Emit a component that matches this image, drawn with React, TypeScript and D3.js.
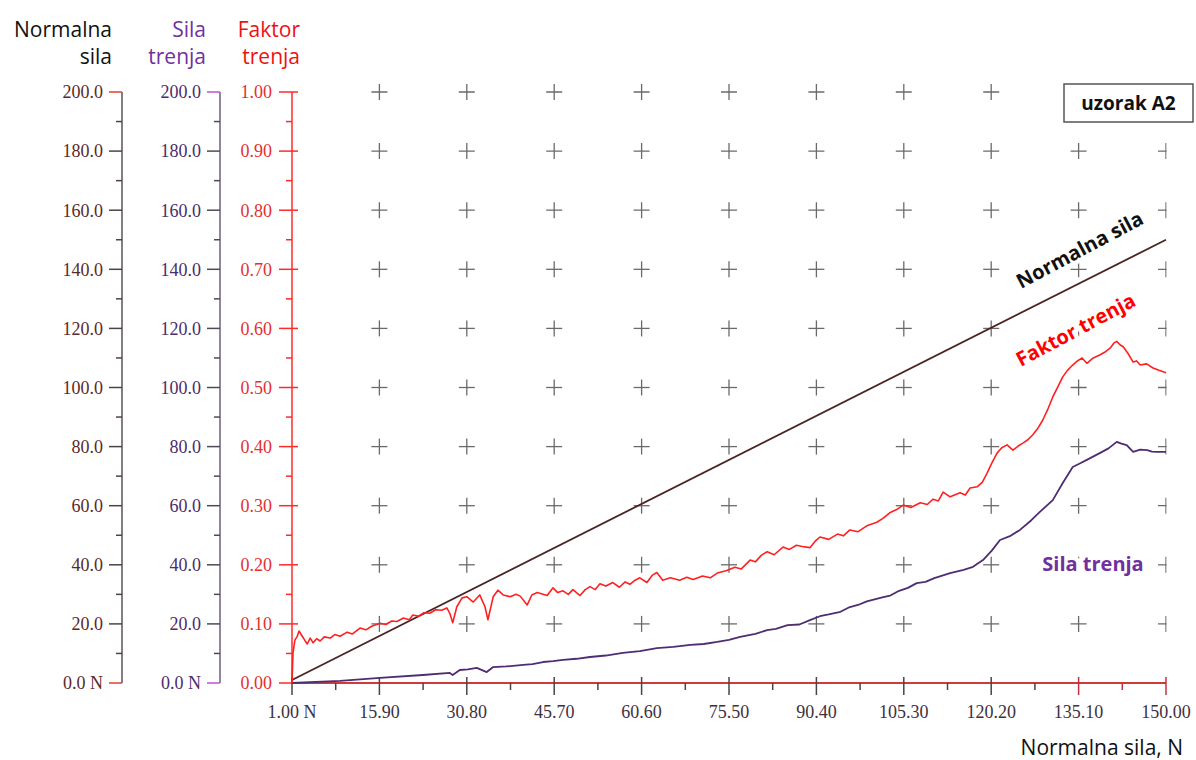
import { useEffect, useRef } from 'react'
import * as d3 from 'd3'

const W = 1196, H = 760
const P = { left: 292, right: 1166, top: 92, bottom: 683 }

// x axis (Normalna sila, N)
const xTicks = [1, 15.9, 30.8, 45.7, 60.6, 75.5, 90.4, 105.3, 120.2, 135.1, 150]
const forceTicks = [0, 20, 40, 60, 80, 100, 120, 140, 160, 180, 200]
const coefTicks = [0, 0.1, 0.2, 0.3, 0.4, 0.5, 0.6, 0.7, 0.8, 0.9, 1.0]

// Normalna sila (straight ramp)
const normalN = [1, 150]
const normalF = [1, 150]

// Faktor trenja
const coefN = [
  1, 1.17, 1.5, 1.85, 2.2, 2.7, 3.2, 3.6, 4.1, 4.6, 5.2, 5.8, 6.5, 7.5, 8.3, 9.2, 10.4, 11.3, 12.6, 13.6,
  14.6, 16, 17, 18, 18.9, 20, 21, 21.6, 22.6, 23.5, 24.5, 25.5, 26.5, 27.4, 27.9, 28.4, 29.1, 30, 30.8, 31.9,
  33, 33.9, 34.4, 35.3, 36.1, 37, 38.2, 39.2, 39.9, 41.1, 41.9, 42.8, 44.5, 45.5, 46.3, 47.2, 48.1, 48.9, 50.1, 51,
  51.8, 52.7, 53.5, 54.5, 55.7, 56.8, 57.8, 58.6, 59.5, 60.3, 61.5, 62.4, 63.2, 64.2, 65.5, 67.1, 68.3, 69.4, 71, 72.3,
  73.5, 75, 76.5, 77.6, 79.1, 80, 81, 82, 83.2, 84.7, 85.8, 87, 88, 89.3, 90.2, 91, 92.5, 94, 95, 96.1,
  97.5, 99, 100.7, 101.8, 102.9, 104, 105.2, 106.5, 108.1, 109.3, 110.3, 111.2, 112, 113.2, 114.9, 115.8, 116.6, 117.8, 118.7, 119.5,
  120.3, 121.2, 122, 122.9, 123.9, 124.8, 125.6, 126.5, 127.3, 128.1, 129, 129.8, 130.7, 131.6, 132.4, 133.2, 134.1, 134.9, 135.7, 136.5,
  137.6, 138.7, 139.6, 140.5, 141.1, 141.6, 142.2, 142.7, 143.5, 144.4, 145, 145.6, 146.7, 147.8, 148.8, 150,
]
const coefV = [
  0, 0.051, 0.073, 0.078, 0.088, 0.08, 0.072, 0.066, 0.076, 0.068, 0.075, 0.071, 0.078, 0.076, 0.082, 0.079, 0.086, 0.083, 0.093, 0.09,
  0.096, 0.101, 0.099, 0.105, 0.104, 0.11, 0.107, 0.115, 0.113, 0.119, 0.118, 0.124, 0.123, 0.127, 0.118, 0.102, 0.129, 0.144, 0.146, 0.137,
  0.149, 0.129, 0.107, 0.146, 0.157, 0.149, 0.146, 0.15, 0.147, 0.132, 0.149, 0.153, 0.148, 0.161, 0.153, 0.156, 0.15, 0.158, 0.148, 0.158,
  0.163, 0.158, 0.168, 0.164, 0.17, 0.162, 0.171, 0.167, 0.174, 0.178, 0.17, 0.182, 0.187, 0.174, 0.178, 0.174, 0.179, 0.175, 0.181, 0.178,
  0.186, 0.19, 0.196, 0.193, 0.208, 0.205, 0.216, 0.222, 0.217, 0.23, 0.226, 0.233, 0.231, 0.229, 0.24, 0.247, 0.243, 0.252, 0.249, 0.259,
  0.256, 0.266, 0.272, 0.279, 0.288, 0.293, 0.301, 0.297, 0.305, 0.302, 0.311, 0.308, 0.323, 0.315, 0.322, 0.318, 0.33, 0.332, 0.34, 0.355,
  0.372, 0.389, 0.398, 0.403, 0.394, 0.401, 0.406, 0.412, 0.42, 0.43, 0.445, 0.462, 0.484, 0.502, 0.518, 0.529, 0.538, 0.545, 0.55, 0.541,
  0.55, 0.555, 0.56, 0.567, 0.575, 0.578, 0.572, 0.569, 0.558, 0.543, 0.545, 0.538, 0.54, 0.533, 0.529, 0.525,
]

// Sila trenja
const frictN = [
  1, 9.2, 16, 23.3, 27.9, 28.4, 29.6, 31, 32.5, 34.2, 35.3, 37.5, 40.4, 42, 43.8, 45.5, 47.2, 49.5, 51.8, 54.5,
  57.4, 60.3, 63.2, 66, 68.9, 71.2, 73.5, 75.5, 77.4, 80, 82, 83.5, 85.5, 87.5, 89.3, 91, 92.5, 94.5, 96.1, 97.5,
  99, 101.8, 103, 104.5, 106, 107.5, 109, 110.5, 113.2, 115.5, 117.1, 118.8, 120.3, 121.7, 123.5, 125.1, 127, 128.5, 130.7, 132.4,
  134.1, 135.3, 136.5, 138.7, 140.2, 141.6, 142.4, 143.3, 144.4, 145.6, 146.8, 147.6, 148.4, 150,
]
const frictV = [
  0, 0.7, 1.7, 2.7, 3.4, 2.7, 4.4, 4.6, 5.1, 3.7, 5.4, 5.6, 6.1, 6.4, 7.1, 7.4, 7.8, 8.2, 8.8, 9.3,
  10.2, 10.8, 11.8, 12.2, 12.9, 13.2, 13.9, 14.6, 15.6, 16.6, 17.9, 18.3, 19.6, 19.8, 21.3, 22.6, 23.2, 24.1, 25.7, 26.4,
  27.6, 29.1, 29.6, 31.2, 32.2, 33.8, 34.2, 35.5, 37.2, 38.3, 39.3, 41.6, 44.8, 48.4, 49.8, 51.8, 55, 57.9, 61.9, 67.7,
  73.1, 74.3, 75.5, 77.8, 79.4, 81.6, 81, 80.5, 78.2, 79, 78.8, 78.3, 78.2, 78.2,
]

const serif = 'Liberation Serif, Times New Roman, serif'
const sans = 'Open Sans, Noto Sans, sans-serif'

export default function App() {
  const svgRef = useRef<SVGSVGElement>(null)

  useEffect(() => {
    const svg = d3.select(svgRef.current!)
    svg.selectAll('*').remove()

    const x = d3.scaleLinear().domain([1, 150]).range([P.left, P.right])
    const yF = d3.scaleLinear().domain([0, 200]).range([P.bottom, P.top])
    const yC = d3.scaleLinear().domain([0, 1]).range([P.bottom, P.top])

    svg.append('rect').attr('width', W).attr('height', H).attr('fill', '#fff')

    svg.append('clipPath').attr('id', 'plotClip')
      .append('rect').attr('x', P.left).attr('y', 70).attr('width', P.right - P.left + 0.5).attr('height', 640)

    // "+" grid markers
    const grid = svg.append('g').attr('clip-path', 'url(#plotClip)')
      .attr('stroke', '#6a6a6a').attr('stroke-width', 1.3)
    xTicks.slice(1).forEach(xv => {
      coefTicks.slice(1).forEach(cv => {
        const cx = x(xv), cy = yC(cv)
        grid.append('line').attr('x1', cx - 8).attr('x2', cx + 8).attr('y1', cy).attr('y2', cy)
        grid.append('line').attr('x1', cx).attr('x2', cx).attr('y1', cy - 8).attr('y2', cy + 8)
      })
    })

    // vertical axis helper
    const vAxis = (ax: number, scale: d3.ScaleLinear<number, number>, ticks: number[], fmt: (v: number, i: number) => string,
      lineColor: string, tickColor: string, labelColor: string, labelX: number, right: number, endColor: string) => {
      const g = svg.append('g')
      g.append('line').attr('x1', ax).attr('x2', ax).attr('y1', P.top).attr('y2', P.bottom)
        .attr('stroke', lineColor).attr('stroke-width', 1.5)
      ticks.forEach((v, i) => {
        const y = scale(v)
        const end = i === 0 || i === ticks.length - 1
        g.append('line').attr('x1', ax - 13).attr('x2', ax + right).attr('y1', y).attr('y2', y)
          .attr('stroke', end ? endColor : tickColor).attr('stroke-width', 1.5)
        g.append('text').attr('x', labelX).attr('y', y).attr('dy', '0.35em').attr('text-anchor', 'end')
          .attr('font-family', serif).attr('font-size', 18).attr('fill', labelColor).text(fmt(v, i))
        if (i < ticks.length - 1) {
          const m = scale((v + ticks[i + 1]) / 2)
          g.append('line').attr('x1', ax - 6).attr('x2', ax).attr('y1', m).attr('y2', m)
            .attr('stroke', tickColor).attr('stroke-width', 1.5)
        }
      })
    }

    vAxis(122, yF, forceTicks, (v, i) => i === 0 ? '0.0 N' : v.toFixed(1), '#5b5358', '#4a4448', '#5a2a2a', 103, 0, '#e04030')
    vAxis(220, yF, forceTicks, (v, i) => i === 0 ? '0.0 N' : v.toFixed(1), '#6e5f80', '#4f4858', '#4a2d6a', 201, 0, '#c050d0')
    vAxis(P.left, yC, coefTicks, v => v.toFixed(2), '#ff2a2a', '#ff2a2a', '#e53030', 272, 6, '#ff2a2a')

    // x axis
    const xg = svg.append('g')
    xg.append('line').attr('x1', P.left).attr('x2', P.right).attr('y1', P.bottom).attr('y2', P.bottom)
      .attr('stroke', '#d03a3a').attr('stroke-width', 1.8)
    xTicks.forEach((v, i) => {
      const px = x(v)
      xg.append('line').attr('x1', px).attr('x2', px).attr('y1', P.bottom - 6).attr('y2', P.bottom + 12)
        .attr('stroke', i >= 9 ? '#c03040' : '#4a4448').attr('stroke-width', 1.5)
      xg.append('text').attr('x', px).attr('y', P.bottom + 35).attr('text-anchor', 'middle')
        .attr('font-family', serif).attr('font-size', 18).attr('fill', '#3e3040')
        .text(i === 0 ? `${v.toFixed(2)} N` : v.toFixed(2))
      if (i < xTicks.length - 1) {
        const m = x((v + xTicks[i + 1]) / 2)
        xg.append('line').attr('x1', m).attr('x2', m).attr('y1', P.bottom).attr('y2', P.bottom + 7)
          .attr('stroke', i >= 9 ? '#c03040' : '#4a4448').attr('stroke-width', 1.5)
      }
    })
    svg.append('text').attr('x', 1183).attr('y', 755).attr('text-anchor', 'end')
      .attr('font-family', sans).attr('font-size', 21).attr('fill', '#111').text('Normalna sila, N')

    // series labels (with white halo hiding the grid markers beneath)
    const label = (tr: string, text: string, color: string) => {
      svg.append('text').attr('transform', tr).attr('text-anchor', 'middle')
        .attr('font-family', sans).attr('font-weight', 700).attr('font-size', 20)
        .attr('fill', color).attr('stroke', '#fff').attr('stroke-width', 9)
        .attr('stroke-linejoin', 'round').attr('paint-order', 'stroke').text(text)
    }
    label('translate(1083,256) rotate(-28)', 'Normalna sila', '#111')
    label('translate(1079,336) rotate(-28)', 'Faktor trenja', '#ff0000')
    label('translate(1093,571)', 'Sila trenja', '#7030a0')

    // series
    const normalLine = d3.line<number>().x((_, i) => x(normalN[i])).y(v => yF(v))
    svg.append('path').datum(normalF).attr('fill', 'none').attr('stroke', '#4a2424')
      .attr('stroke-width', 1.8).attr('d', normalLine)

    const frictLine = d3.line<number>().x((_, i) => x(frictN[i])).y(v => yF(v))
    svg.append('path').datum(frictV).attr('fill', 'none').attr('stroke', '#4e2d72')
      .attr('stroke-width', 1.8).attr('stroke-linejoin', 'round').attr('d', frictLine)

    const coefLine = d3.line<number>().x((_, i) => x(coefN[i])).y(v => yC(v))
    svg.append('path').datum(coefV).attr('fill', 'none').attr('stroke', '#ff2020')
      .attr('stroke-width', 1.6).attr('stroke-linejoin', 'round').attr('d', coefLine)

    // axis titles
    const title = (tx: number, lines: string[], color: string) => {
      lines.forEach((t, i) => {
        svg.append('text').attr('x', tx).attr('y', 37 + i * 27).attr('text-anchor', 'end')
          .attr('font-family', sans).attr('font-size', 21).attr('fill', color).text(t)
      })
    }
    title(112, ['Normalna', 'sila'], '#111')
    title(206, ['Sila', 'trenja'], '#7030a0')
    title(300, ['Faktor', 'trenja'], '#ee1111')

    // sample box
    svg.append('rect').attr('x', 1064).attr('y', 84).attr('width', 129).attr('height', 38)
      .attr('fill', '#fff').attr('stroke', '#555').attr('stroke-width', 1.5)
    svg.append('text').attr('x', 1128.5).attr('y', 110).attr('text-anchor', 'middle')
      .attr('font-family', sans).attr('font-weight', 700).attr('font-size', 19).attr('fill', '#111').text('uzorak A2')
  }, [])

  return <svg ref={svgRef} width={W} height={H} style={{ position: 'absolute', left: 0, top: 0 }} viewBox={`0 0 ${W} ${H}`} />
}
